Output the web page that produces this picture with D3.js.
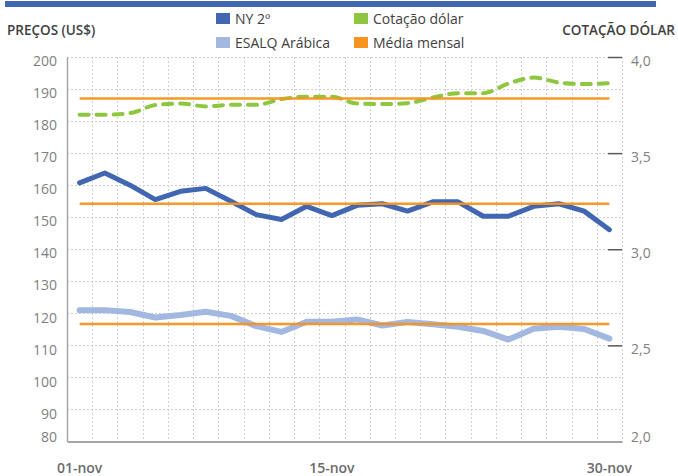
<!DOCTYPE html>
<html><head><meta charset="utf-8">
<script src="https://cdn.jsdelivr.net/npm/d3@7"></script>
<style>
html,body{margin:0;padding:0;background:#fff;}
svg{display:block;font-family:"Open Sans",sans-serif;}
</style></head>
<body>
<svg id="chart" width="678" height="476"></svg>
<script>
const dates = ["01-nov","02-nov","05-nov","06-nov","07-nov","08-nov","09-nov","12-nov","13-nov","14-nov","15-nov",
               "16-nov","19-nov","20-nov","21-nov","22-nov","23-nov","26-nov","27-nov","28-nov","29-nov","30-nov"];
const ny2 = [160.7,163.8,160.0,155.5,158.1,159.0,155.0,150.8,149.3,153.4,150.5,
             153.7,154.2,151.9,154.8,154.8,150.3,150.3,153.4,154.2,151.9,146.1];
const esalq = [121.0,121.0,120.4,118.7,119.5,120.5,119.2,116.0,114.2,117.4,117.4,
               118.1,116.2,117.3,116.6,115.8,114.5,111.8,115.2,115.8,115.1,112.1];
const dolar = [3.700,3.700,3.708,3.750,3.758,3.743,3.751,3.751,3.781,3.793,3.793,
               3.758,3.755,3.760,3.789,3.812,3.812,3.862,3.893,3.867,3.859,3.864];
const mediaNY = 154.2, mediaEsalq = 116.7, mediaDolar = 3.784;
const leftTicks = [80,90,100,110,120,130,140,150,160,170,180,190,200];
const rightTicks = [2.0,2.5,3.0,3.5,4.0];
const xTickLabels = ["01-nov","15-nov","30-nov"];
const legendItems = [
  {name:"NY 2º", color:"#4267B2"},
  {name:"Cotação dólar", color:"#8DC63F"},
  {name:"ESALQ Arábica", color:"#A3B8E0"},
  {name:"Média mensal", color:"#F7941D"}
];

const svg = d3.select("#chart");
const L = 67, R = 622, T = 57, B = 441.5;

const x = d3.scaleBand().domain(dates).range([L, R]).padding(0);
const yL = d3.scaleLinear().domain([80, 200]).range([B, T]);
const yR = d3.scaleLinear().domain([2, 4]).range([B, T]);
const cx = d => x(d) + x.bandwidth() / 2;

// top bar
svg.append("rect").attr("x", 5).attr("y", 1).attr("width", 651).attr("height", 6).attr("fill", "#4267B2");

// titles
svg.append("text").attr("x", 7).attr("y", 35).attr("font-size", 13.5).attr("font-weight", 600)
  .attr("fill", "#404040").text("PREÇOS (US$)");
svg.append("text").attr("x", 675).attr("y", 35).attr("text-anchor", "end").attr("font-size", 13.5)
  .attr("font-weight", 600).attr("fill", "#404040").text("COTAÇÃO DÓLAR");

// legend
const lg = svg.append("g");
legendItems.forEach((it, i) => {
  const col = i % 2, row = Math.floor(i / 2);
  const gx = 216 + col * 138, gy = 13 + row * 24;
  lg.append("rect").attr("x", gx).attr("y", gy).attr("width", 14).attr("height", 11).attr("fill", it.color);
  lg.append("text").attr("x", gx + 19).attr("y", gy + 11).attr("font-size", 14).attr("fill", "#404040").text(it.name);
});

// gridlines horizontal
const grid = svg.append("g").attr("stroke", "#d0d0d0").attr("stroke-width", 1).attr("stroke-dasharray", "2,2");
leftTicks.filter(t => t > 80).forEach(t => {
  grid.append("line").attr("x1", L).attr("x2", R).attr("y1", Math.round(yL(t)) + 0.5).attr("y2", Math.round(yL(t)) + 0.5);
});
// gridlines vertical at band boundaries
dates.forEach(d => {
  const xv = Math.round(x(d) + x.bandwidth()) + 0.5;
  grid.append("line").attr("x1", xv).attr("x2", xv).attr("y1", T).attr("y2", B);
});

// axes
const leftAxis = d3.axisLeft(yL).tickValues(leftTicks).tickSize(0).tickPadding(10);
const gL = svg.append("g").attr("transform", `translate(${L},0)`).call(leftAxis);
gL.select(".domain").attr("stroke", "#a6a6a6").attr("stroke-width", 1.5);
gL.selectAll("text").attr("font-size", 14).attr("fill", "#808080").attr("font-family", "Open Sans")
  .attr("dy", d => d === 80 ? "0" : "0.62em");

const rightAxis = d3.axisRight(yR).tickValues(rightTicks).tickSize(-14).tickPadding(9)
  .tickFormat(d => d3.format(".1f")(d).replace(".", ","));
const gR = svg.append("g").attr("transform", `translate(${R},0)`).call(rightAxis);
gR.select(".domain").remove();
gR.selectAll("line").attr("stroke", "#595959").attr("stroke-width", 1.5);
gR.selectAll("text").attr("font-size", 14).attr("fill", "#808080").attr("font-family", "Open Sans")
  .attr("dy", d => d === 2 ? "0" : "0.58em");

const bottomAxis = d3.axisBottom(x).tickValues(xTickLabels).tickSize(0).tickPadding(22);
const gB = svg.append("g").attr("transform", `translate(0,${B})`).call(bottomAxis);
gB.select(".domain").attr("stroke", "#a6a6a6").attr("stroke-width", 2);
gB.selectAll("text").attr("font-size", 14).attr("font-weight", 600).attr("fill", "#6b6b6b").attr("font-family", "Open Sans");

// lines
const lineL = (arr) => d3.line().x((d, i) => cx(dates[i])).y(d => yL(d))(arr);
const lineR = (arr) => d3.line().curve(d3.curveMonotoneX).x((d, i) => cx(dates[i])).y(d => yR(d))(arr);

svg.append("path").attr("d", lineR(dolar)).attr("fill", "none").attr("stroke", "#8DC63F")
  .attr("stroke-width", 4).attr("stroke-linecap", "round").attr("stroke-dasharray", "9,8");
svg.append("path").attr("d", lineL(esalq)).attr("fill", "none").attr("stroke", "#A3B8E0")
  .attr("stroke-width", 6).attr("stroke-linejoin", "round").attr("stroke-linecap", "round");
svg.append("path").attr("d", lineL(ny2)).attr("fill", "none").attr("stroke", "#4267B2")
  .attr("stroke-width", 5).attr("stroke-linejoin", "round").attr("stroke-linecap", "round");

// monthly averages
const first = dates[0], last = dates[dates.length - 1];
[[yL(mediaNY)], [yL(mediaEsalq)], [yR(mediaDolar)]].forEach(([yy]) => {
  svg.append("line").attr("x1", cx(first)).attr("x2", cx(last)).attr("y1", yy).attr("y2", yy)
    .attr("stroke", "#F7941D").attr("stroke-width", 2.5).attr("opacity", 0.95);
});
</script>
</body></html>
